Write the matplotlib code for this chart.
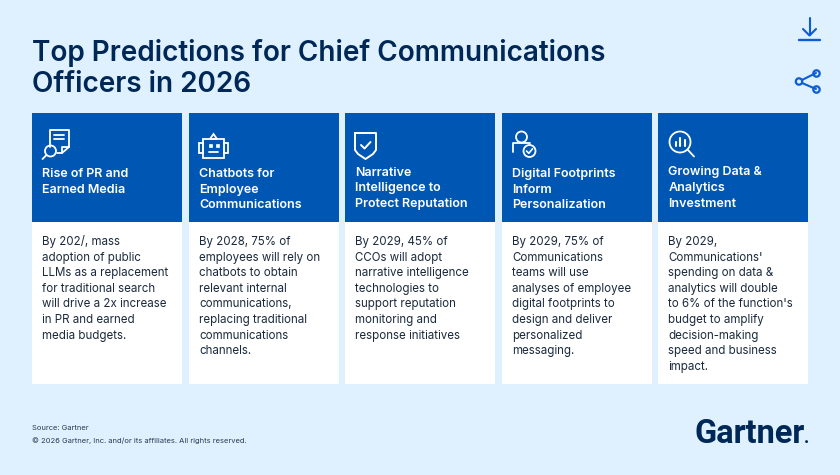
import matplotlib

matplotlib.use("Agg")
import matplotlib.pyplot as plt
from matplotlib.patches import Circle, Polygon, Rectangle

title_lines = ["Top Predictions for Chief Communications", "Officers in 2026"]
headings = [
    ["Rise of PR and", "Earned Media"],
    ["Chatbots for", "Employee", "Communications"],
    ["Narrative", "Intelligence to", "Protect Reputation"],
    ["Digital Footprints", "Inform", "Personalization"],
    ["Growing Data &", "Analytics", "Investment"],
]
bodies = [
    ["By 202/, mass", "adoption of public", "LLMs as a replacement", "for traditional search",
     "will drive a 2x increase", "in PR and earned", "media budgets."],
    ["By 2028, 75% of", "employees will rely on", "chatbots to obtain", "relevant internal",
     "communications,", "replacing traditional", "communications", "channels."],
    ["By 2029, 45% of", "CCOs will adopt", "narrative intelligence", "technologies to",
     "support reputation", "monitoring and", "response initiatives"],
    ["By 2029, 75% of", "Communications", "teams will use", "analyses of employee",
     "digital footprints to", "design and deliver", "personalized", "messaging."],
    ["By 2029,", "Communications'", "spending on data &", "analytics will double",
     "to 6% of the function's", "budget to amplify", "decision-making", "speed and business", "impact."],
]
source_lines = ["Source: Gartner", "© 2026 Gartner, Inc. and/or its affiliates. All rights reserved."]

card_left = [32, 188.5, 344.5, 501.5, 658]
heading_top = [172.5, 172.5, 171, 172.5, 171]

BG = "#DFF0FF"
BLUE = "#0056B3"
NAVY = "#002856"
ICON = "#0B5CD6"

plt.rcParams["font.family"] = ["Inter", "Lato", "DejaVu Sans"]

fig = plt.figure(figsize=(8.4, 4.75), dpi=100, facecolor=BG)
ax = fig.add_axes([0, 0, 1, 1])
ax.set_xlim(0, 840)
ax.set_ylim(475, 0)
ax.axis("off")


def line(xs, ys, color="white", lw=1.3):
    ax.plot(xs, ys, color=color, lw=lw, solid_capstyle="round", solid_joinstyle="round")


def ring(x, y, r, color="white", lw=1.3, fill="none"):
    ax.add_patch(Circle((x, y), r, fc=fill, ec=color, lw=lw))


def icon_document(x, y):
    line([x + 7, x + 7, x + 26, x + 26, x + 19, x + 14],
         [y + 17, y, y, y + 17, y + 23, y + 23])
    line([x + 19, x + 19, x + 26], [y + 23, y + 17, y + 17])
    line([x + 11, x + 21], [y + 5, y + 5])
    line([x + 11, x + 21], [y + 9, y + 9])
    ring(x + 7.5, y + 21, 5.5)
    line([x + 3.5, x - 0.5], [y + 25, y + 29])


def icon_robot(x, y):
    ax.add_patch(Rectangle((x + 4, y + 8), 21, 19, fc="none", ec="white", lw=1.3))
    ax.add_patch(Rectangle((x, y + 12), 4, 10, fc="none", ec="white", lw=1.3))
    ax.add_patch(Rectangle((x + 25, y + 12), 4, 10, fc="none", ec="white", lw=1.3))
    ax.add_patch(Polygon([(x + 11, y + 8), (x + 14.5, y + 3), (x + 18, y + 8)], fc="none", ec="white", lw=1.3))
    ax.add_patch(Rectangle((x + 9.5, y + 12.5), 3, 3, fc="white", ec="white", lw=0.5))
    ax.add_patch(Rectangle((x + 17, y + 12.5), 3, 3, fc="white", ec="white", lw=0.5))
    line([x + 10, x + 19], [y + 21, y + 21])


def icon_shield(x, y):
    line([x, x + 21, x + 21, x + 18, x + 10.5, x + 3, x, x],
         [y, y, y + 17, y + 21, y + 26, y + 21, y + 17, y], lw=1.4)
    line([x + 6, x + 9.5, x + 15.5], [y + 12, y + 15.5, y + 9], lw=1.4)


def icon_person(x, y):
    ring(x + 9.5, y + 6, 5.5)
    line([x + 0.5, x + 0.5, x + 18], [y + 21, y + 12, y + 12])
    ring(x + 17.5, y + 20, 6)
    line([x + 14.5, x + 16.8, x + 20.5], [y + 20, y + 22.3, y + 17.8], lw=1.2)


def icon_search(x, y):
    ring(x + 11, y + 11, 10.5)
    line([x + 18.5, x + 25], [y + 18.5, y + 25.5])
    line([x + 6.5, x + 6.5], [y + 11, y + 14.5], lw=1.5)
    line([x + 11, x + 11], [y + 6.5, y + 14.5], lw=1.5)
    line([x + 15.5, x + 15.5], [y + 9, y + 14.5], lw=1.5)


icons = [icon_document, icon_robot, icon_shield, icon_person, icon_search]
icon_pos = [(43, 130), (199, 131), (355, 133), (512, 131), (669, 131)]

for i, left in enumerate(card_left):
    ax.add_patch(Rectangle((left, 222), 150, 162, fc="white", ec="none"))
    ax.add_patch(Rectangle((left, 112.5), 150, 109.5, fc=BLUE, ec="none"))
    icons[i](*icon_pos[i])
    for j, text in enumerate(headings[i]):
        ax.text(left + 10.5, heading_top[i] + 1.5 + j * 15.6, text, color="white", fontsize=9.0,
                fontweight="semibold", va="center", ha="left")
    for j, text in enumerate(bodies[i]):
        ax.text(left + 10.5, 242 + j * 15.6, text, color="#1B2A3D", fontsize=8.3,
                va="center", ha="left")

for j, text in enumerate(title_lines):
    ax.text(32, 53 + j * 32, text, color=NAVY, fontsize=20.1, fontweight="semibold",
            va="center", ha="left")

for j, text in enumerate(source_lines):
    ax.text(32, 428.5 + j * 12, text, color="#2B3A4D", fontsize=5.45, va="center", ha="left")

ax.text(804.5, 443, "Gartner", color=NAVY, fontsize=23.5, fontweight="bold",
        va="baseline", ha="right", family=["Roboto", "DejaVu Sans"])
ax.text(804, 443, ".", color=NAVY, fontsize=13, fontweight="bold",
        va="baseline", ha="left", family=["Roboto", "DejaVu Sans"])

# download and share buttons
line([809.5, 809.5], [18, 35], color=ICON, lw=1.5)
line([803, 809.5, 816], [29, 35.5, 29], color=ICON, lw=1.5)
line([799, 820], [40, 40], color=ICON, lw=1.7)
line([802, 816], [80, 73], color=ICON, lw=1.5)
line([802, 816], [83, 89], color=ICON, lw=1.5)
ring(799, 81.5, 3.2, color=ICON, lw=1.6, fill=BG)
ring(816.5, 73.5, 3.2, color=ICON, lw=1.6, fill=BG)
ring(816.5, 89.5, 3.2, color=ICON, lw=1.6, fill=BG)

fig.savefig("out.png", dpi=100, facecolor=BG)
plt.close(fig)
